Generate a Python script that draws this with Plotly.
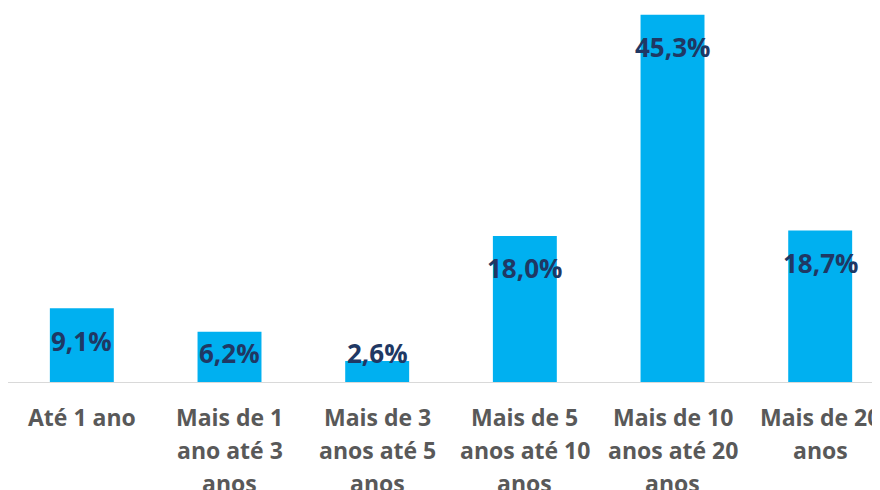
import plotly.graph_objects as go

categories = ["Até 1 ano", "Mais de 1 ano até 3 anos", "Mais de 3 anos até 5 anos",
              "Mais de 5 anos até 10 anos", "Mais de 10 anos até 20 anos", "Mais de 20 anos"]
label_lines = [
    ["Até 1 ano"],
    ["Mais de 1", "ano até 3", "anos"],
    ["Mais de 3", "anos até 5", "anos"],
    ["Mais de 5", "anos até 10", "anos"],
    ["Mais de 10", "anos até 20", "anos"],
    ["Mais de 20", "anos"],
]
values = [9.1, 6.2, 2.6, 18.0, 45.3, 18.7]
value_labels = ["9,1%", "6,2%", "2,6%", "18,0%", "45,3%", "18,7%"]

BAR = "#00B0F0"
LABEL = "#1F3864"
AXIS_TXT = "#595959"
FONT = "Open Sans"

x = list(range(len(categories)))

fig = go.Figure(go.Bar(
    x=x, y=values, width=0.433, marker=dict(color=BAR, line=dict(width=0)),
    hoverinfo="skip"))

annotations = []
for i, (v, t) in enumerate(zip(values, value_labels)):
    annotations.append(dict(
        x=i, y=max(v - 4.0, 3.52), xref="x", yref="y", text=t, showarrow=False,
        yanchor="middle", xanchor="center",
        font=dict(family=FONT, size=26, color=LABEL, weight="bold")))
for i, lines in enumerate(label_lines):
    for j, line in enumerate(lines):
        annotations.append(dict(
            x=i, y=0, xref="x", yref="y", text=line, showarrow=False,
            yanchor="middle", xanchor="center", yshift=-(35 + 33 * j),
            font=dict(family=FONT, size=23, color=AXIS_TXT, weight="bold")))

fig.update_layout(
    width=872, height=482,
    margin=dict(l=0, r=0, t=0, b=108),
    paper_bgcolor="white", plot_bgcolor="white",
    showlegend=False,
    annotations=annotations,
    xaxis=dict(range=[-0.5, 5.405], showticklabels=False, showgrid=False,
               zeroline=False, showline=True, linecolor="#D9D9D9", linewidth=1,
               ticks=""),
    yaxis=dict(range=[0, 46.13], showticklabels=False, showgrid=False,
               zeroline=False, showline=False, ticks=""),
)

fig.write_html("out.html")
